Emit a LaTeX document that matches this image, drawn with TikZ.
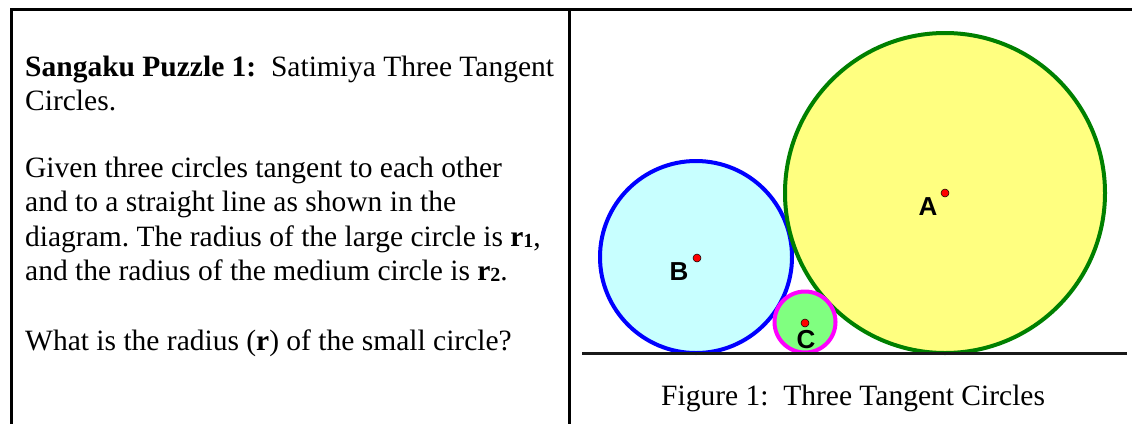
\documentclass[tikz,border=0pt]{standalone}
\usepackage{fontspec}
\setmainfont{Liberation Serif}
\newfontfamily\arialfont{Liberation Sans}
\frenchspacing
\begin{document}
\begin{tikzpicture}[x=1pt,y=-1pt,
  frame/.style={line width=3pt,black},
  txt/.style={anchor=base west,inner sep=0pt,font=\fontsize{29.5}{34}\selectfont},
  lbl/.style={inner sep=0pt,font=\arialfont\bfseries\fontsize{26}{26}\selectfont},
  ctr/.style={circle,fill=red,draw=black,line width=0.5pt,minimum size=8pt,inner sep=0pt},
  circA/.style={draw={rgb,255:red,0;green,128;blue,0},fill={rgb,255:red,255;green,255;blue,128},line width=4pt},
  circB/.style={draw={rgb,255:red,0;green,0;blue,255},fill={rgb,255:red,200;green,255;blue,255},line width=4pt},
  circC/.style={draw={rgb,255:red,255;green,0;blue,255},fill={rgb,255:red,128;green,255;blue,128},line width=4pt}]
\useasboundingbox (0,0) rectangle (1132,424);
% frame
\coordinate (tl) at (10,9);
\coordinate (tr) at (1132,9);
\coordinate (bl) at (11.5,424);
\coordinate (tm) at (569,9);
\coordinate (bm) at (569,424);
\draw[frame] (tl) -- (tr);
\draw[frame] (11.5,9) -- (bl);
\draw[frame] (tm) -- (bm);
% text
\node[txt] (t1) at (25,76) {\textbf{Sangaku Puzzle 1:}\ \ Satimiya Three Tangent};
\node[txt] (t2) at (25,110) {Circles.};
\node[txt] (t3) at (25,177) {Given three circles tangent to each other};
\node[txt] (t4) at (25,211) {and to a straight line as shown in the};
\node[txt] (t5) at (25,246) {diagram. The radius of the large circle is \textbf{r}\raisebox{-1pt}{\fontsize{20}{20}\selectfont\bfseries 1},};
\node[txt] (t6) at (25,280) {and the radius of the medium circle is \textbf{r}\raisebox{-1pt}{\fontsize{20}{20}\selectfont\bfseries 2}.};
\node[txt] (t7) at (25,350) {What is the radius (\textbf{r}) of the small circle?};
% circles
\draw[circB] (696,257) circle[radius=96];
\draw[circA] (945,193) circle[radius=160];
\draw[circC] (805,322) circle[radius=30.5];
\coordinate (g1) at (582,353);
\coordinate (g2) at (1127,353);
\draw[line width=3pt,black!90] (g1) -- (g2);
\node[ctr] (A) at (945,193) {};
\node[ctr] (B) at (697,258) {};
\node[ctr] (C) at (805,323) {};
\node[lbl] (la) at (928,207) {A};
\node[lbl] (lb) at (679,272) {B};
\node[lbl] (lc) at (806,340) {C};
\node[txt] (cap) at (661,405) {Figure 1:\ \ Three Tangent Circles};
\end{tikzpicture}
\end{document}
